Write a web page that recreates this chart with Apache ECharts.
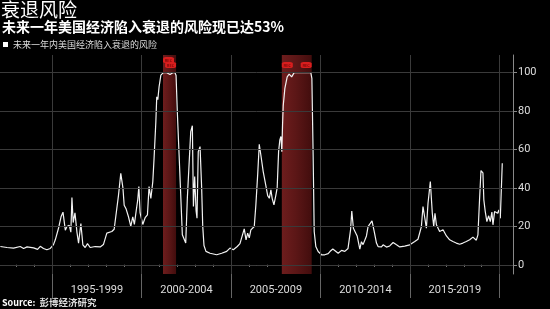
<!DOCTYPE html>
<html><head><meta charset="utf-8">
<script src="https://cdn.jsdelivr.net/npm/echarts@6/dist/echarts.min.js"></script>
<style>html,body{margin:0;padding:0;background:#000;}#c{width:550px;height:309px;}</style>
</head><body><div id="c"></div>
<script>
const years = [
1992.10,1992.47,1992.84,1993.21,1993.40,1993.59,1993.96,1994.18,1994.33,1994.51,1994.70,1994.89,
1995.07,1995.17,1995.35,1995.49,1995.60,1995.73,1995.82,1995.95,1996.04,1996.10,1996.17,1996.27,
1996.38,1996.47,1996.60,1996.71,1996.84,1996.97,1997.12,1997.40,1997.68,1997.86,1998.05,1998.33,
1998.46,1998.57,1998.70,1998.83,1998.95,1999.02,1999.13,1999.26,1999.39,1999.50,1999.59,1999.69,
1999.78,1999.84,1999.91,2000.06,2000.19,2000.32,2000.41,2000.51,2000.62,2000.69,2000.79,2000.84,
2000.90,2000.97,2001.07,2001.21,2001.40,2001.58,2001.74,2001.86,2001.92,2001.99,2002.09,2002.18,
2002.27,2002.37,2002.46,2002.55,2002.65,2002.74,2002.83,2002.89,2002.96,2003.04,2003.09,2003.16,
2003.26,2003.35,2003.41,2003.48,2003.59,2003.82,2004.19,2004.47,2004.75,2004.93,2005.12,2005.34,
2005.49,2005.73,2005.83,2005.92,2006.01,2006.10,2006.20,2006.29,2006.38,2006.48,2006.57,2006.66,
2006.79,2006.93,2007.04,2007.13,2007.22,2007.29,2007.39,2007.50,2007.57,2007.65,2007.72,2007.78,
2007.83,2007.87,2007.91,2008.00,2008.13,2008.24,2008.38,2008.52,2008.84,2009.12,2009.45,2009.51,
2009.58,2009.64,2009.73,2009.86,2010.05,2010.23,2010.42,2010.52,2010.68,2010.79,2010.98,2011.17,
2011.35,2011.53,2011.67,2011.74,2011.83,2011.91,2012.04,2012.19,2012.28,2012.37,2012.56,2012.65,
2012.75,2012.87,2012.99,2013.12,2013.21,2013.30,2013.40,2013.49,2013.68,2013.86,2014.05,2014.24,
2014.42,2014.70,2014.98,2015.26,2015.44,2015.63,2015.72,2015.81,2015.91,2016.00,2016.13,2016.24,
2016.32,2016.39,2016.47,2016.65,2016.84,2017.03,2017.21,2017.39,2017.58,2017.77,2017.95,2018.14,
2018.33,2018.51,2018.70,2018.79,2018.88,2018.96,2019.07,2019.12,2019.20,2019.29,2019.39,2019.48,
2019.57,2019.63,2019.72,2019.82,2019.89,2019.96,2020.04,2020.15
];
const probability = [
9.5,9,8.7,9.5,8.5,9.3,8.8,8,9.6,8.5,7.8,8.5,
10.5,13,19,25,27.4,18,19.9,20.5,17,35,22,27,
17,11.3,21.5,10.4,9,11,9,9.5,9.3,10.5,16.5,17.3,
18.5,18,36,47.6,40,31,29,25,20,25,21,28,
34,40.7,27,21,24.5,26,40.7,34.5,43.3,55.4,74.5,87.4,
86,92.6,98.7,100,100,99,100,100,98.5,79.6,57,36.4,
15.6,14.7,11.3,34.6,35.5,69.3,72.4,30.3,45.9,28,24.2,58.9,
61.5,40,20,10,7,6,5.2,6,7,8.7,7.8,9.5,
11,18.7,13,16.5,14,18.2,17.5,19.9,31.2,46.8,62.7,57,
48.5,41.6,36,34.6,39,34.6,31.2,36.4,40,58.9,65,66.8,
58.9,72.7,83,91.8,97.8,99.2,97.8,100,100,100,100,97,
57,17.3,9.5,6.9,5.2,5.2,5.8,6.9,8.2,8.7,6,7.5,
7,8.5,18,28,19,18.5,15,8.1,12,10.5,15,19.9,
19,22.9,17.5,11.3,9.5,10.4,9.3,10.4,9.2,9.8,11.6,10.4,
9.3,9.7,10.4,12.1,13.3,19.9,30.3,25,19,32,43.3,26.8,
20,26.8,20.8,17.3,18.2,15,13,12.1,11.3,10.7,11.3,12.1,
13,14.4,12.8,15.6,33.8,49,47.8,33.8,27.7,22.5,25.5,22.5,
27.4,20.8,27.7,28.6,26.8,28.6,24.2,52.8
];
const recessionStart = [2001.19, 2007.83];
const recessionEnd = [2001.92, 2009.50];
const yTicks = [0, 20, 40, 60, 80, 100];
const xSeparators = [1995, 2000, 2005, 2010, 2015, 2020];
const periodLabels = ['1995-1999', '2000-2004', '2005-2009', '2010-2014', '2015-2019'];
const seriesName = '未来一年内美国经济陷入衰退的风险';
const titleText = '衰退风险';
const subtitleText = '未来一年美国经济陷入衰退的风险现已达53%';
const sourceLabel = 'Source:';
const sourceText = '彭博经济研究';

const X_MIN = 1992.08, X_MAX = 2020.75, Y_MIN = -4.8, Y_MAX = 109.2;
const minorYears = [];
for (let y = 1993; y <= 2020; y++) minorYears.push(y);
const periodMids = periodLabels.map((_, i) => (xSeparators[i] + xSeparators[i + 1]) / 2);

const lineData = years.map((y, i) => [y, probability[i]]);
const FONT = '"Noto Sans CJK SC", "Noto Sans", sans-serif';

const bandColor = {
  type: 'linear', x: 0, y: 0, x2: 1, y2: 0,
  colorStops: [
    { offset: 0, color: '#6e1d1d' },
    { offset: 0.5, color: '#5a1616' },
    { offset: 1, color: '#420d0d' }
  ]
};

const recMarkers = [];
recessionStart.forEach((s, i) => {
  const e = recessionEnd[i];
  const narrow = (e - s) < 1;
  recMarkers.push({ coord: [s, narrow ? 106.6 : 104], symbolOffset: [5.5, 0] });
  recMarkers.push({ coord: [e, 104], symbolOffset: [-5.5, 0] });
});

const chart = echarts.init(document.getElementById('c'), null, { renderer: 'canvas' });
chart.setOption({
  backgroundColor: '#000',
  animation: false,
  textStyle: { fontFamily: FONT },
  title: [
    { text: titleText, left: 1, top: 0, padding: 0,
      textStyle: { color: '#fff', fontSize: 19, fontWeight: 'normal', fontFamily: FONT } },
    { text: subtitleText, left: 2, top: 20, padding: 0,
      textStyle: { color: '#fff', fontSize: 14, fontWeight: 'bold', fontFamily: FONT } },
    { text: '{a|' + sourceLabel + '} {b|' + sourceText + '}', left: 2, top: 297, padding: 0,
      textStyle: { lineHeight: 11, rich: {
        a: { color: '#fff', fontSize: 9, fontWeight: 'bold', fontFamily: FONT, lineHeight: 11 },
        b: { color: '#ddd', fontSize: 9.5, fontFamily: FONT, lineHeight: 11 }
      } } }
  ],
  legend: {
    data: [seriesName], left: 3, top: 40, padding: 0,
    icon: 'rect', itemWidth: 5, itemHeight: 5,
    textStyle: { color: '#ddd', fontSize: 9, fontFamily: FONT }
  },
  grid: { left: 0, right: 37, top: 55, bottom: 35, containLabel: false, outerBoundsMode: 'none' },
  xAxis: [
    { type: 'value', min: X_MIN, max: X_MAX, position: 'bottom',
      axisLine: { show: true, lineStyle: { color: '#777', width: 1 } },
      axisTick: { show: true, customValues: minorYears, length: 2, inside: false, lineStyle: { color: '#999' } },
      axisLabel: { show: false }, splitLine: { show: false } },
    { type: 'value', min: X_MIN, max: X_MAX, position: 'bottom', gridIndex: 0,
      axisLine: { show: false },
      axisTick: { show: true, customValues: xSeparators, length: 24, inside: false, lineStyle: { color: '#666' } },
      axisLabel: { show: true, customValues: periodMids, margin: 11, color: '#ddd', fontSize: 11,
        fontFamily: 'Roboto, sans-serif',
        formatter: v => periodLabels[Math.round((v - periodMids[0]) / 5)] },
      splitLine: { show: false } }
  ],
  yAxis: {
    type: 'value', min: Y_MIN, max: Y_MAX, position: 'right',
    axisLine: { show: true, lineStyle: { color: '#888' } },
    axisTick: { show: true, customValues: yTicks, length: 4, lineStyle: { color: '#888' } },
    axisLabel: { customValues: yTicks, margin: 5, color: '#ddd', fontSize: 11, fontFamily: 'Roboto, sans-serif' },
    splitLine: { show: false },
    name: 'Percent', nameLocation: 'middle', nameRotate: -90, nameGap: 29,
    nameTextStyle: { color: '#ddd', fontSize: 12, fontFamily: 'Roboto, sans-serif' }
  },
  series: [
    { name: 'grid', type: 'line', data: [], z: 1, silent: true,
      markArea: { silent: true, itemStyle: { color: bandColor },
        data: recessionStart.map((s, i) => [{ xAxis: s }, { xAxis: recessionEnd[i] }]) },
      markLine: { silent: true, symbol: ['none', 'none'], label: { show: false },
        lineStyle: { color: '#3a3a3a', width: 1, type: 'solid' },
        data: yTicks.map(v => ({ yAxis: v })).concat(xSeparators.map(v => ({ xAxis: v }))) } },
    { name: seriesName, type: 'line', data: lineData, z: 3, showSymbol: false, symbol: 'none',
      lineStyle: { color: '#f2f2f2', width: 1.2 }, itemStyle: { color: '#fff' },
      markPoint: { silent: true, symbol: 'roundRect', symbolSize: [11, 6],
        itemStyle: { color: '#d81e1e' },
        label: { show: true, formatter: 'REC', fontSize: 4, color: '#5a0000' },
        data: recMarkers } }
  ]
});
</script></body></html>
